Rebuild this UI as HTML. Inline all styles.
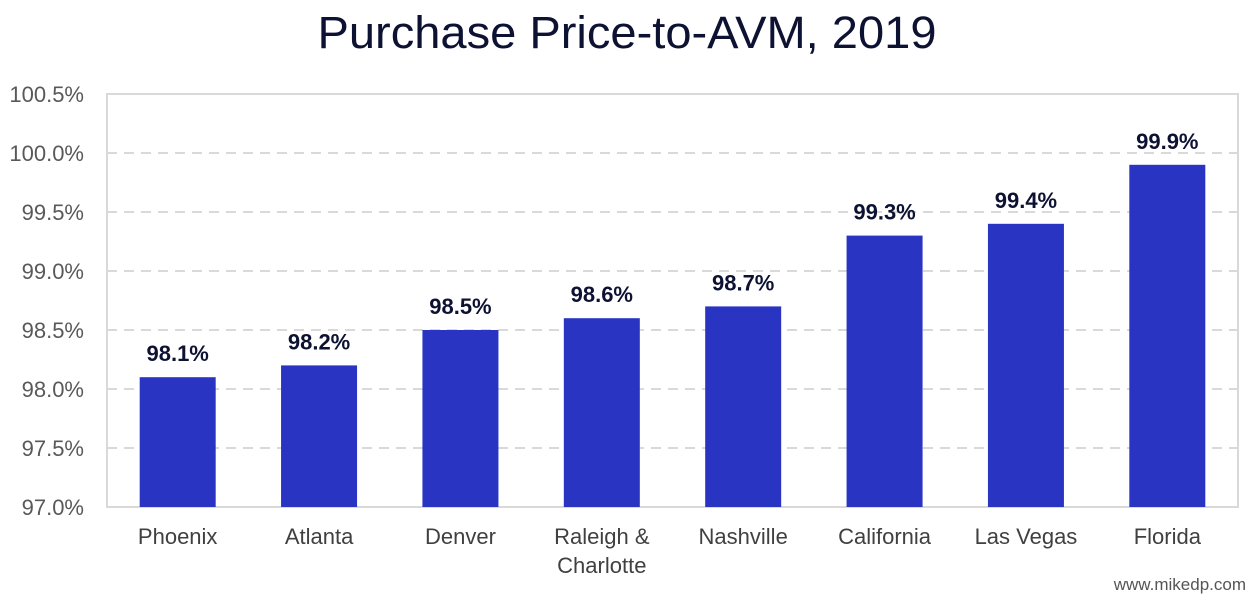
<!DOCTYPE html>
<html><head><meta charset="utf-8"><style>
body{margin:0;background:#fff;font-family:"Liberation Sans",sans-serif;}
svg text{font-family:"Liberation Sans",sans-serif;}
</style></head><body>
<svg id="chart" width="1255" height="599">
<text x="627" y="48" text-anchor="middle" font-size="45" textLength="619" lengthAdjust="spacingAndGlyphs" fill="#0d1233">Purchase Price-to-AVM, 2019</text>
<g id="grid"></g><g id="bars"></g><g id="labels"></g>
<text x="1246" y="590" text-anchor="end" font-size="17" fill="#555">www.mikedp.com</text>
</svg>
<script>
const categories=["Phoenix","Atlanta","Denver","Raleigh &|Charlotte","Nashville","California","Las Vegas","Florida"];
const values=[98.1,98.2,98.5,98.6,98.7,99.3,99.4,99.9];
const valueLabels=["98.1%","98.2%","98.5%","98.6%","98.7%","99.3%","99.4%","99.9%"];
const ticks=[97.0,97.5,98.0,98.5,99.0,99.5,100.0,100.5];
const tickLabels=["97.0%","97.5%","98.0%","98.5%","99.0%","99.5%","100.0%","100.5%"];
const NS="http://www.w3.org/2000/svg";
const L=107,R=1238,T=94,B=507,ymin=97,ymax=100.5;
const y=v=>B-(v-ymin)/(ymax-ymin)*(B-T);
const bw=(R-L)/categories.length;
const x=i=>L+bw*i+bw/2;
function mk(tag,attrs,parent){const e=document.createElementNS(NS,tag);for(const k in attrs)e.setAttribute(k,attrs[k]);parent.appendChild(e);return e;}
const grid=document.getElementById('grid'),bars=document.getElementById('bars'),labels=document.getElementById('labels');
ticks.forEach((t,i)=>{
 if(i>0&&i<ticks.length-1){const l=mk('line',{x1:L,x2:R,y1:y(t),y2:y(t),stroke:'#d9d9d9','stroke-width':2,'stroke-dasharray':'10,7'},grid);
 
 }
 const tx=mk('text',{x:84,y:y(t)+8,'text-anchor':'end','font-size':22,fill:'#595959'},labels);
 tx.textContent=tickLabels[i];
 
 
});
const fr=mk('rect',{x:L,y:T,width:R-L,height:B-T,fill:'none',stroke:'#d9d9d9','stroke-width':2},grid);


categories.forEach((c,i)=>{
 const r=mk('rect',{x:x(i)-38,y:y(values[i]),width:76,height:B-y(values[i]),fill:'#2934c2'},bars);
 
 
 const v=mk('text',{x:x(i),y:y(values[i])-16,'text-anchor':'middle','font-size':22,'font-weight':'bold',fill:'#0d1233'},labels);
 v.textContent=valueLabels[i];
 
 
 c.split('|').forEach((ln,j)=>{
  const t=mk('text',{x:x(i),y:544+j*29,'text-anchor':'middle','font-size':22,fill:'#404040'},labels);
  t.textContent=ln;
  
  
 });
});
</script>
</body></html>
